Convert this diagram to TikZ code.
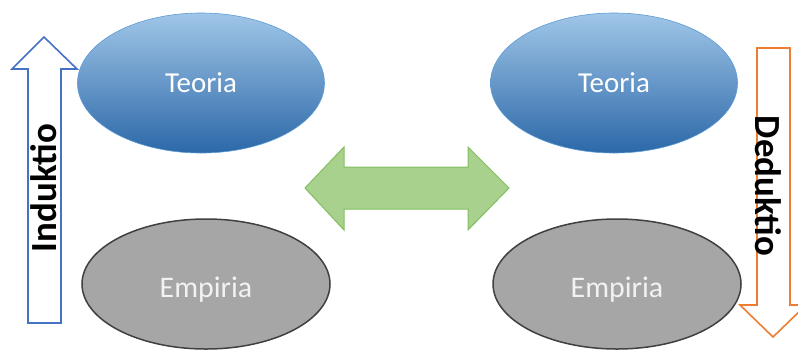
\documentclass[tikz,border=0pt]{standalone}
\usepackage{fontspec}
\setmainfont{Carlito}
\usetikzlibrary{shapes.geometric}
\definecolor{bluetop}{RGB}{160,198,232}
\definecolor{bluebot}{RGB}{44,104,168}
\definecolor{blueedge}{RGB}{91,155,213}
\definecolor{empfill}{RGB}{166,166,166}
\definecolor{empedge}{RGB}{64,64,64}
\definecolor{empText}{RGB}{242,242,242}
\definecolor{greenfill}{RGB}{169,209,142}
\definecolor{greenedge}{RGB}{130,190,95}
\definecolor{indblue}{RGB}{68,114,196}
\definecolor{dedorange}{RGB}{237,125,49}
\tikzset{
  theory/.style={ellipse, minimum width=247bp, minimum height=140bp,
    top color=bluetop, bottom color=bluebot, draw=blueedge, line width=0.6bp,
    text=white, font=\fontsize{29}{33}\selectfont},
  empiric/.style={ellipse, minimum width=248bp, minimum height=130bp,
    fill=empfill, draw=empedge, line width=1.5bp},
  emplabel/.style={text=empText, font=\fontsize{30}{34}\selectfont, yshift=-6bp},
  blockarrow/.style={fill=white, line width=1.6bp, line join=miter},
  dirlabel/.style={font=\fontsize{37}{42}\selectfont\bfseries, text=black, inner sep=0pt}
}
\begin{document}
\begin{tikzpicture}[x=1bp, y=-1bp]
  \useasboundingbox (0,0) rectangle (798,359);
  \clip (0,0) rectangle (798,359);

  % induction arrow, pointing up
  \draw[blockarrow, draw=indblue]
    (28,323) -- (28,69) -- (12,69) -- (44,37) -- (77,69) -- (61,69) -- (61,323) -- cycle;

  % deduction arrow, pointing down
  \draw[blockarrow, draw=dedorange]
    (757,48) -- (790,48) -- (790,305) -- (806,305) -- (773,337) -- (740,305) -- (757,305) -- cycle;

  % two-way arrow between the two sides
  \draw[fill=greenfill, draw=greenedge, line width=1bp, line join=miter]
    (305,188) -- (344,147) -- (344,167) -- (468,167) -- (468,147) -- (509,188)
    -- (468,230) -- (468,209) -- (344,209) -- (344,230) -- cycle;

  \node[theory]  (teoriaL)  at (201,83)  {Teoria};
  \node[empiric, label={[emplabel]center:Empiria}] (empiriaL) at (206,284) {};
  \node[theory]  (teoriaR)  at (614,83)  {Teoria};
  \node[empiric, label={[emplabel]center:Empiria}] (empiriaR) at (617,284) {};

  \node[dirlabel, rotate=90]  (induktio) at (44,188)  {Induktio};
  \node[dirlabel, rotate=-90] (deduktio) at (768,186) {Deduktio};
\end{tikzpicture}
\end{document}
